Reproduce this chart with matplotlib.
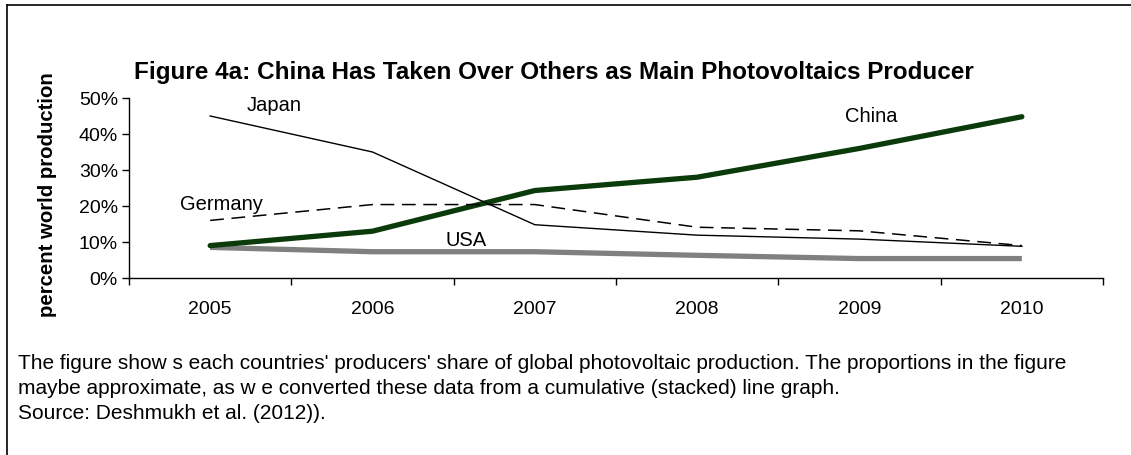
import matplotlib
matplotlib.use("Agg")
import matplotlib.pyplot as plt
from matplotlib.lines import Line2D
from matplotlib.ticker import FixedLocator, PercentFormatter

plt.rcParams['font.family'] = ['Liberation Sans', 'DejaVu Sans']

years = ['2005', '2006', '2007', '2008', '2009', '2010']
china = [9, 13, 24.3, 28, 36, 44.8]
japan = [45, 35, 14.8, 11.9, 10.8, 8.8]
germany = [16, 20.4, 20.4, 14.1, 13.1, 9]
usa = [8.5, 7.3, 7.3, 6.3, 5.4, 5.4]

caption_lines = [
    "The figure show s each countries' producers' share of global photovoltaic production. The proportions in the figure",
    "maybe approximate, as w e converted these data from a cumulative (stacked) line graph.",
    "Source: Deshmukh et al. (2012)).",
]

W, H = 1131, 456
fig = plt.figure(figsize=(W / 100, H / 100), dpi=100)
ax = fig.add_axes([129 / W, 1 - 279 / H, (1103 - 129) / W, (279 - 99) / H])

x = list(range(len(years)))
ax.plot(x, usa, color='#808080', lw=3.8, solid_capstyle='butt', zorder=2)
ax.plot(x, china, color='#0b3a0b', lw=3.8, solid_capstyle='round', zorder=3)
ax.plot(x, germany, color='black', lw=1.1, dashes=(9, 5), zorder=4)
ax.plot(x, japan, color='black', lw=1.0, zorder=4)

ax.set_xlim(-0.5, len(years) - 0.5)
ax.set_ylim(0, 50)
ax.set_xticks(x)
ax.set_xticklabels(years, fontsize=14)
ax.xaxis.set_minor_locator(FixedLocator([i - 0.5 for i in range(len(years) + 1)]))
ax.tick_params(axis='x', which='major', length=0, pad=15.5)
ax.tick_params(axis='x', which='minor', length=5, width=1)
ax.set_yticks([0, 10, 20, 30, 40, 50])
ax.yaxis.set_major_formatter(PercentFormatter(decimals=0))
ax.tick_params(axis='y', labelsize=14, length=5, width=1, pad=3)
for s in ['top', 'right']:
    ax.spines[s].set_visible(False)
for s in ['left', 'bottom']:
    ax.spines[s].set_linewidth(1)

# y label placed by hand
fig.text(48 / W, 1 - 195 / H, 'percent world production', fontsize=14.7, fontweight='bold',
         rotation=90, ha='center', va='center')

ax.text(0.227, 48.3, 'Japan', fontsize=14.5, ha='left', va='center')
ax.text(-0.186, 20.7, 'Germany', fontsize=14.5, ha='left', va='center')
ax.text(3.91, 45, 'China', fontsize=14.5, ha='left', va='center')
ax.text(1.447, 10.8, 'USA', fontsize=14.5, ha='left', va='center')

fig.text(554 / W, 1 - 73 / H, 'Figure 4a: China Has Taken Over Others as Main Photovoltaics Producer',
         fontsize=17.5, fontweight='bold', ha='center', va='center')

for i, line in enumerate(caption_lines):
    fig.text(18 / W, 1 - (369 + 25 * i) / H, line, fontsize=15, ha='left', va='baseline')

# outer frame (left and top edges visible)
fig.add_artist(Line2D([7 / W, 7 / W], [0, 1 - 6 / H], transform=fig.transFigure, color='black', lw=1.2))
fig.add_artist(Line2D([7 / W, 1], [1 - 6 / H, 1 - 6 / H], transform=fig.transFigure, color='black', lw=1.2))

fig.savefig('out.png', dpi=100)
